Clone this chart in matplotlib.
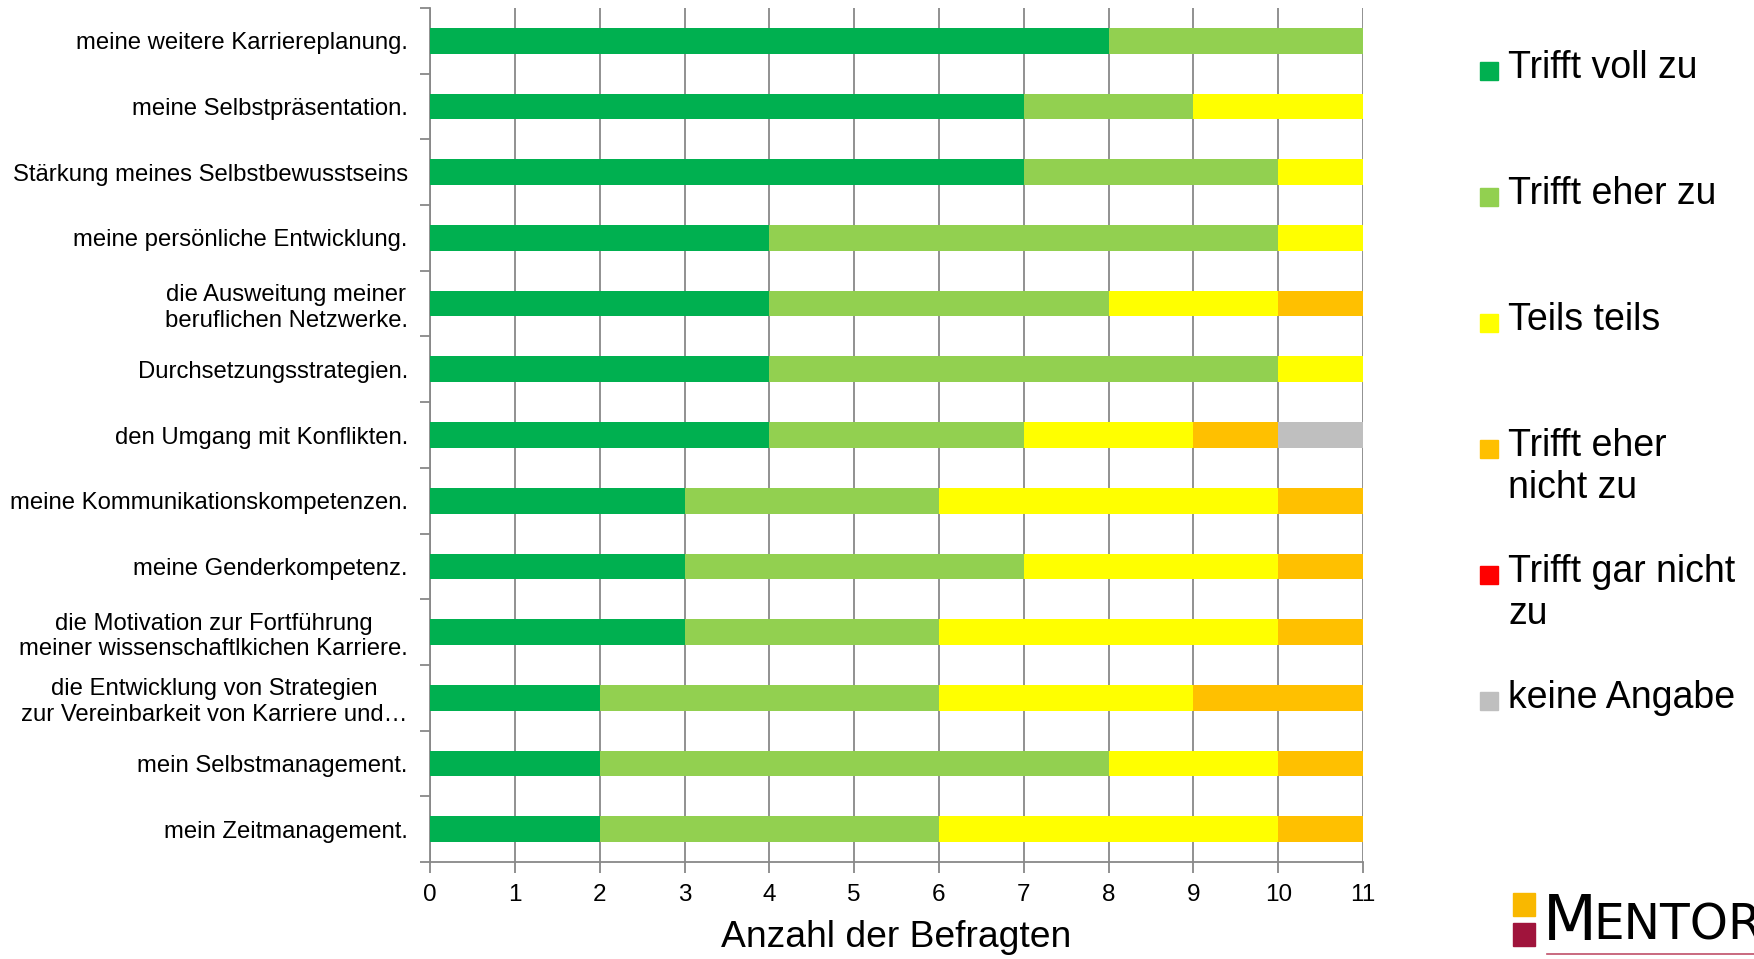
import numpy as np
import matplotlib.pyplot as plt
from matplotlib.patches import Rectangle
from matplotlib.lines import Line2D

plt.rcParams['font.family'] = ['Liberation Sans', 'DejaVu Sans']

# Aussagen (von oben nach unten)
aussagen = [
    'meine weitere Karriereplanung.',
    'meine Selbstpräsentation.',
    'Stärkung meines Selbstbewusstseins',
    'meine persönliche Entwicklung.',
    'die Ausweitung meiner\nberuflichen Netzwerke.',
    'Durchsetzungsstrategien.',
    'den Umgang mit Konflikten.',
    'meine Kommunikationskompetenzen.',
    'meine Genderkompetenz.',
    'die Motivation zur Fortführung\nmeiner wissenschaftlkichen Karriere.',
    'die Entwicklung von Strategien\nzur Vereinbarkeit von Karriere und…',
    'mein Selbstmanagement.',
    'mein Zeitmanagement.',
]

kategorien = ['Trifft voll zu', 'Trifft eher zu', 'Teils teils',
              'Trifft eher\nnicht zu', 'Trifft gar nicht\nzu', 'keine Angabe']
farben = ['#00B050', '#92D050', '#FFFF00', '#FFC000', '#FF0000', '#BFBFBF']

voll_zu = [8, 7, 7, 4, 4, 4, 4, 3, 3, 3, 2, 2, 2]
eher_zu = [3, 2, 3, 6, 4, 6, 3, 3, 4, 3, 4, 6, 4]
teils = [0, 2, 1, 1, 2, 1, 2, 4, 3, 4, 3, 2, 4]
eher_nicht = [0, 0, 0, 0, 1, 0, 1, 1, 1, 1, 2, 1, 1]
gar_nicht = [0, 0, 0, 0, 0, 0, 0, 0, 0, 0, 0, 0, 0]
keine_angabe = [0, 0, 0, 0, 0, 0, 1, 0, 0, 0, 0, 0, 0]

werte = np.array([voll_zu, eher_zu, teils, eher_nicht, gar_nicht, keine_angabe])

fig = plt.figure(figsize=(17.54, 9.59), dpi=100)
ax = fig.add_axes([0.2452, 0.1011, 0.5319, 0.8906])

y = np.arange(len(aussagen))
links = np.zeros(len(aussagen))
for i in range(len(kategorien)):
    ax.barh(y, werte[i], left=links, height=0.39, color=farben[i], zorder=3)
    links += werte[i]

ax.set_xlim(0, 11)
ax.set_ylim(len(aussagen) - 0.5, -0.5)
ax.set_xticks(np.arange(0, 12))
ax.set_yticks(y)
ax.set_yticklabels(aussagen, fontsize=17.2, multialignment='center')
ax.set_yticks(np.arange(-0.5, len(aussagen)), minor=True)
ax.tick_params(axis='y', which='major', length=0, pad=16)
ax.tick_params(axis='y', which='minor', length=7, color='#888888', width=1.3)
ax.tick_params(axis='x', length=8, color='#888888', width=1.3, labelsize=17.5, pad=8)
ax.grid(axis='x', color='#888888', linewidth=1.3, zorder=0)
ax.set_xlabel('Anzahl der Befragten', fontsize=26.8, labelpad=10)

for s in ['top', 'right']:
    ax.spines[s].set_visible(False)
for s in ['left', 'bottom']:
    ax.spines[s].set_color('#888888')
    ax.spines[s].set_linewidth(1.3)

# Legende
for i, (name, farbe) in enumerate(zip(kategorien, farben)):
    yy = 1 - (71 + i * 126) / 959
    fig.patches.append(Rectangle((1480 / 1754, yy - 9 / 959), 18 / 1754, 18 / 959,
                                 transform=fig.transFigure, color=farbe))
    fig.text(1508 / 1754, yy + 21 / 959, name, fontsize=27, va='top',
             ha='left', linespacing=1.2)

# Logo (am rechten Rand abgeschnitten wie im Original)
fig.patches.append(Rectangle((1513 / 1754, 1 - 916 / 959), 22 / 1754, 23 / 959,
                             transform=fig.transFigure, color='#F9B800'))
fig.patches.append(Rectangle((1513 / 1754, 1 - 946 / 959), 22 / 1754, 23 / 959,
                             transform=fig.transFigure, color='#A0143C'))
fig.text(1543 / 1754, 1 - 940 / 959, 'M', fontsize=45, va='baseline', ha='left',
         family='DejaVu Sans')
fig.text(1593 / 1754, 1 - 940 / 959, 'ENTOR', fontsize=35, va='baseline', ha='left',
         family='DejaVu Sans')
fig.lines.append(Line2D([1547 / 1754, 1], [1 - 954 / 959] * 2,
                        transform=fig.transFigure, color='#C0506A', linewidth=1.2))

fig.savefig('out.png', dpi=100)
